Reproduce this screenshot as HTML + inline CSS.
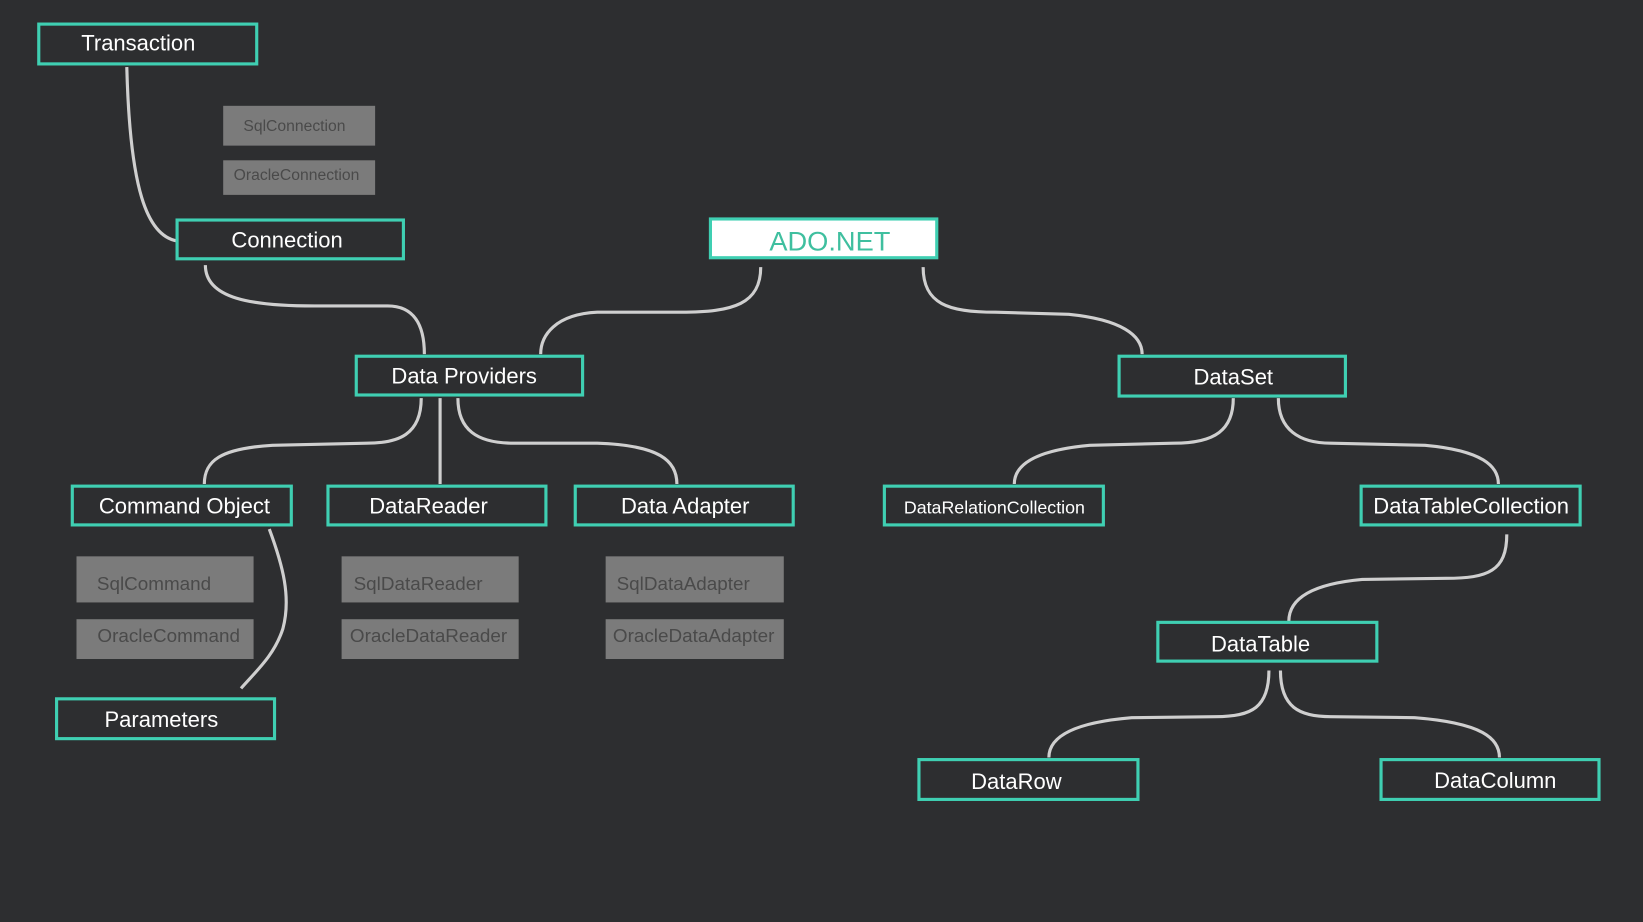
<!DOCTYPE html>
<html><head><meta charset="utf-8"><style>
html,body{margin:0;padding:0;background:#2d2e30;overflow:hidden}
svg{display:block}
text{font-family:"Liberation Sans",sans-serif}
</style></head><body>
<svg width="1643" height="922" viewBox="0 0 1568 880" preserveAspectRatio="none" xmlns="http://www.w3.org/2000/svg">
<rect width="1568" height="880" fill="#2d2e30"/>
<g fill="none" stroke="#cfcfcf" stroke-width="3">
<path d="M121,64 C124,180 140,225 169,230"/>
<path d="M196,253 C196,285 240,292 300,292 L370,292 C395,292 405,310 405,338"/>
<path d="M726,255 C726,290 700,298 650,298 L570,298 C530,300 516,320 516,338"/>
<path d="M881,255 C881,290 905,298 950,298 L1020,300 C1070,305 1090,320 1090,338"/>
<path d="M402,380 C402,415 380,423 350,423 L260,425 C210,428 195,440 195,462"/>
<path d="M420,380 L420,462"/>
<path d="M437,380 C437,410 455,423 490,423 L570,423 C630,425 646,440 646,462"/>
<path d="M1177,380 C1177,410 1160,423 1120,423 L1040,425 C985,430 968,445 968,462"/>
<path d="M1220,380 C1220,410 1240,423 1270,423 L1360,425 C1415,430 1430,445 1430,462"/>
<path d="M1438,510 C1438,545 1420,552 1380,552 L1300,553 C1245,558 1230,575 1230,593"/>
<path d="M1211,640 C1211,675 1195,684 1160,684 L1080,685 C1020,690 1001,705 1001,723"/>
<path d="M1222,640 C1222,675 1240,684 1270,684 L1350,685 C1415,690 1431,705 1431,723"/>
<path d="M257,505 C270,540 278,570 270,600 C262,625 245,640 230,657"/>
</g>
<g fill="#7b7b7b">
<rect x="213" y="101" width="145" height="38"/>
<rect x="213" y="153" width="145" height="33"/>
<rect x="73" y="531" width="169" height="44"/>
<rect x="73" y="591" width="169" height="38"/>
<rect x="326" y="531" width="169" height="44"/>
<rect x="326" y="591" width="169" height="38"/>
<rect x="578" y="531" width="170" height="44"/>
<rect x="578" y="591" width="170" height="38"/>
</g>
<g fill="#4a4a4a" font-size="15" text-anchor="middle">
<text x="281" y="125">SqlConnection</text>
<text x="283" y="172">OracleConnection</text>
</g>
<g fill="#4a4a4a" font-size="18" text-anchor="middle">
<text x="147" y="563">SqlCommand</text>
<text x="161" y="613">OracleCommand</text>
<text x="399" y="563">SqlDataReader</text>
<text x="409" y="613">OracleDataReader</text>
<text x="652" y="563">SqlDataAdapter</text>
<text x="662" y="613">OracleDataAdapter</text>
</g>
<g fill="#2d2e30" stroke="#3fcfb2" stroke-width="3">
<rect x="37" y="23" width="208" height="38"/>
<rect x="169" y="210" width="216" height="37"/>
<rect x="340" y="340" width="216" height="37"/>
<rect x="1068" y="340" width="216" height="38"/>
<rect x="69" y="464" width="209" height="37"/>
<rect x="313" y="464" width="208" height="37"/>
<rect x="549" y="464" width="208" height="37"/>
<rect x="844" y="464" width="209" height="37"/>
<rect x="1299" y="464" width="209" height="37"/>
<rect x="1105" y="594" width="209" height="37"/>
<rect x="877" y="725" width="209" height="38"/>
<rect x="1318" y="725" width="208" height="38"/>
<rect x="54" y="667" width="208" height="38"/>
<rect x="678" y="209" width="216" height="37" fill="#ffffff"/>
</g>
<g fill="#ffffff" font-size="21" text-anchor="middle">
<text x="132" y="48">Transaction</text>
<text x="274" y="236">Connection</text>
<text x="443" y="366">Data Providers</text>
<text x="1177" y="367">DataSet</text>
<text x="176" y="490">Command Object</text>
<text x="409" y="490">DataReader</text>
<text x="654" y="490">Data Adapter</text>
<text x="949" y="490" font-size="17">DataRelationCollection</text>
<text x="1404" y="490">DataTableCollection</text>
<text x="1203" y="622">DataTable</text>
<text x="970" y="753">DataRow</text>
<text x="1427" y="752">DataColumn</text>
<text x="154" y="694">Parameters</text>
</g>
<text x="792" y="239" font-size="26" fill="#3fbf9f" text-anchor="middle">ADO.NET</text>
</svg>
</body></html>
